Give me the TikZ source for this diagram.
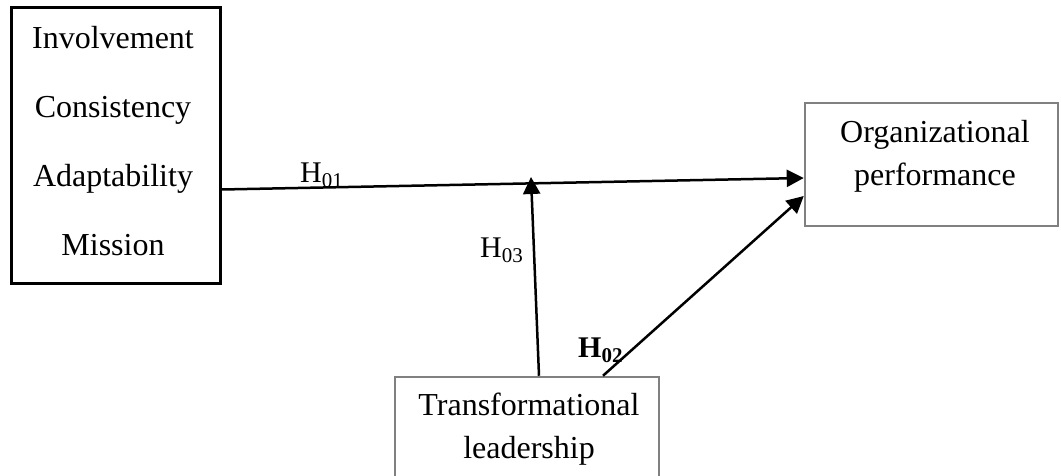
\documentclass[tikz,border=0pt]{standalone}
\usepackage{fontspec}
\setmainfont{Liberation Serif}
\usetikzlibrary{arrows.meta}
\definecolor{boxgray}{RGB}{128,128,128}
\begin{document}
\begin{tikzpicture}[x=1pt,y=-1pt,
  txt/.style={font=\fontsize{32}{43}\selectfont, align=center, inner sep=0pt},
  blackbox/.style={draw=black, line width=3pt},
  graybox/.style={draw=boxgray, line width=2.5pt},
  arr/.style={line width=2.5pt, -{Triangle[length=17pt,width=17pt]}},
  lab/.style={font=\fontsize{30}{34}\selectfont, inner sep=0pt, anchor=base west}]
\useasboundingbox (0,0) rectangle (1061,475);
\node[blackbox, minimum width=209pt, minimum height=276pt, inner sep=0pt] (L) at (115.5,145) {};
\node[txt, font=\fontsize{32}{69}\selectfont, anchor=base] (Ltext) at (113,255) {Involvement\\Consistency\\Adaptability\\Mission};
\node[graybox, minimum width=253pt, minimum height=123pt, inner sep=0pt] (R) at (931.5,164.5) {};
\node[txt, anchor=base] (Rtext) at (935,185) {Organizational\\performance};
\node[graybox, minimum width=264pt, minimum height=110pt, inner sep=0pt] (B) at (527,432) {};
\node[txt, anchor=base] (Btext) at (529,458) {Transformational\\leadership};
\coordinate (M) at (531,177);
\draw[arr] ([yshift=-44.5pt]L.east) -- ([yshift=-13.5pt]R.west);
\draw[arr] ([xshift=12pt]B.north) -- (M);
\draw[arr] ([xshift=76pt]B.north) -- ([yshift=-31.5pt]R.west);
\node[lab] (h1) at (300,182) {H\textsubscript{01}};
\node[lab] (h3) at (480,257) {H\textsubscript{03}};
\node[lab] (h2) at (578,357) {\textbf{H\textsubscript{02}}};
\end{tikzpicture}
\end{document}
